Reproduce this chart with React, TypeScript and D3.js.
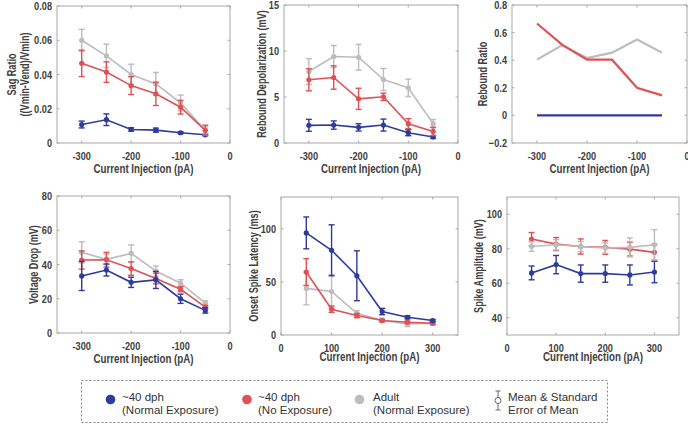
import React from "react";
import * as d3 from "d3";

const BLUE = "#2d3c9c";
const RED = "#df5155";
const GRAY = "#bcbcbc";

const negX = [-300, -250, -200, -150, -100, -50];
const posX = [50, 100, 150, 200, 250, 300];

// Sag ratio
const sagBlue = [0.0108, 0.0136, 0.0079, 0.0075, 0.006, 0.0048];
const sagBlueErr = [0.002, 0.0034, 0.001, 0.0012, 0.0006, 0.0005];
const sagRed = [0.0465, 0.0414, 0.0335, 0.0287, 0.0209, 0.0074];
const sagRedErr = [0.0077, 0.006, 0.0052, 0.0068, 0.004, 0.003];
const sagGray = [0.06, 0.0509, 0.04, 0.0345, 0.0234, 0.0074];
const sagGrayErr = [0.0064, 0.0068, 0.006, 0.0067, 0.0046, 0.002];

// Rebound depolarization
const rdBlue = [1.92, 1.95, 1.7, 1.95, 1.12, 0.65];
const rdBlueErr = [0.65, 0.45, 0.4, 0.65, 0.33, 0.15];
const rdRed = [6.87, 7.12, 4.8, 5.02, 2.1, 1.26];
const rdRedErr = [1.2, 1.27, 1.15, 0.4, 0.55, 0.45];
const rdGray = [7.77, 9.4, 9.32, 6.9, 6.0, 2.1];
const rdGrayErr = [1.4, 1.2, 1.4, 1.2, 0.95, 0.45];

// Rebound ratio
const rrBlue = [0, 0, 0, 0, 0, 0];
const rrRed = [0.666, 0.513, 0.404, 0.404, 0.2, 0.145];
const rrGray = [0.404, 0.508, 0.416, 0.455, 0.55, 0.455];

// Voltage drop
const vdBlue = [33.3, 36.8, 29.6, 31.0, 20.0, 13.2];
const vdBlueErr = [8.5, 3.5, 3.0, 5.0, 2.7, 1.6];
const vdRed = [42.6, 42.8, 37.6, 31.8, 25.6, 15.1];
const vdRedErr = [5.3, 4.3, 3.9, 3.1, 1.5, 1.0];
const vdGray = [47.1, 43.0, 46.5, 36.2, 29.1, 17.4];
const vdGrayErr = [6.2, 3.0, 4.9, 2.9, 2.0, 1.4];

// Onset spike latency
const osBlue = [96.2, 79.8, 55.8, 22.1, 16.7, 13.6];
const osBlueErr = [15, 24, 23.5, 3, 1.5, 1];
const osRed = [59.3, 24.3, 18.3, 13.6, 12, 11];
const osRedErr = [12.6, 3, 2, 1, 1, 1];
const osGray = [43.9, 41, 20.5, 13.9, 10.4, 11];
const osGrayErr = [15.5, 16, 2.5, 2, 2.5, 1.5];

// Spike amplitude
const saBlue = [66, 70.8, 65.6, 65.6, 64.8, 66.5];
const saBlueErr = [4, 5.3, 5, 5, 5.8, 6.2];
const saRed = [85.6, 82.7, 81.3, 80.8, 79.8, 77.9];
const saRedErr = [3.8, 3.8, 4.4, 4, 4, 4.8];
const saGray = [81.3, 82.3, 81.3, 80.4, 80.8, 82.3];
const saGrayErr = [2.8, 3, 3, 3, 5.5, 8.7];

const negTicks = [-300, -200, -100, 0];
const posTicks = [0, 100, 200, 300];

const legendLabels = [
  ["~40 dph", "(Normal Exposure)"],
  ["~40 dph", "(No Exposure)"],
  ["Adult", "(Normal Exposure)"],
  ["Mean & Standard", "Error of Mean"],
];

const FONT = "'Liberation Sans', Arial, sans-serif";
const TEXT_COL = "#404040";

function NText(props: {
  x: number;
  y: number;
  anchor?: string;
  size: number;
  sx: number;
  rot?: number;
  children: React.ReactNode;
}) {
  const { x, y, anchor = "start", size, sx, rot = 0 } = props;
  return (
    <text
      transform={`translate(${x},${y}) rotate(${rot}) scale(${sx},1)`}
      textAnchor={anchor}
      fontFamily={FONT}
      fontWeight="bold"
      fontSize={size}
      fill={TEXT_COL}
    >
      {props.children}
    </text>
  );
}

type Series = { y: number[]; err?: number[]; color: string };

type PanelProps = {
  box: [number, number, number, number];
  xDomain: [number, number];
  yDomain: [number, number];
  xTicks: number[];
  yTicks: number[];
  yFmt: (v: number) => string;
  xs: number[];
  series: Series[];
  yLabel: string[];
  yLabelX: number;
  xLabelY: number;
  markers: boolean;
};

function Panel(p: PanelProps) {
  const [x0, y0, x1, y1] = p.box;
  const xs = d3.scaleLinear().domain(p.xDomain).range([x0, x1]);
  const ys = d3.scaleLinear().domain(p.yDomain).range([y1, y0]);
  const line = d3
    .line<number>()
    .x((_, i) => xs(p.xs[i]))
    .y((d) => ys(d));
  const tl = 2.5;
  const cy = (y0 + y1) / 2;
  const cx = (x0 + x1) / 2;
  return (
    <g>
      <rect x={x0} y={y0} width={x1 - x0} height={y1 - y0} fill="none" stroke="#a8a8a8" strokeWidth={1} />
      {p.xTicks.map((t) => (
        <g key={"xt" + t}>
          <line x1={xs(t)} x2={xs(t)} y1={y1} y2={y1 - tl} stroke="#a8a8a8" />
          <line x1={xs(t)} x2={xs(t)} y1={y0} y2={y0 + tl} stroke="#a8a8a8" />
          <NText x={xs(t)} y={y1 + 16.5} anchor="middle" size={11.5} sx={0.8}>
            {t}
          </NText>
        </g>
      ))}
      {p.yTicks.map((t) => (
        <g key={"yt" + t}>
          <line x1={x0} x2={x0 + tl} y1={ys(t)} y2={ys(t)} stroke="#a8a8a8" />
          <line x1={x1} x2={x1 - tl} y1={ys(t)} y2={ys(t)} stroke="#a8a8a8" />
          <NText x={x0 - 5} y={ys(t) + 4} anchor="end" size={11.5} sx={0.8}>
            {p.yFmt(t)}
          </NText>
        </g>
      ))}
      {p.series.map((s, si) => (
        <g key={"s" + si}>
          <path d={line(s.y) || ""} fill="none" stroke={s.color} strokeWidth={p.markers ? 1.6 : 2.2} />
          {s.err &&
            s.y.map((v, i) => {
              const e = s.err![i];
              const px = xs(p.xs[i]);
              return (
                <g key={"e" + i} stroke={s.color} strokeWidth={1.4}>
                  <line x1={px} x2={px} y1={ys(v - e)} y2={ys(v + e)} />
                  <line x1={px - 3} x2={px + 3} y1={ys(v - e)} y2={ys(v - e)} />
                  <line x1={px - 3} x2={px + 3} y1={ys(v + e)} y2={ys(v + e)} />
                </g>
              );
            })}
          {p.markers &&
            s.y.map((v, i) => <circle key={"m" + i} cx={xs(p.xs[i])} cy={ys(v)} r={2.6} fill={s.color} />)}
        </g>
      ))}
      {p.yLabel.map((l, i) => (
        <NText key={"yl" + i} x={p.yLabelX + i * 12.5} y={cy} rot={-90} anchor="middle" size={12} sx={0.76}>
          {l}
        </NText>
      ))}
      <NText x={cx} y={p.xLabelY} anchor="middle" size={12.5} sx={0.78}>
        Current Injection (pA)
      </NText>
    </g>
  );
}

export default function App() {
  const fmt2 = (v: number) => (v === 0 ? "0" : d3.format(".2f")(v));
  const fmt1 = (v: number) => (v === 0 ? "0" : d3.format(".1f")(v));
  const fmt0 = (v: number) => String(v);
  const legendX = [110.5, 247, 359.5, 498];
  const legendTextX = [122, 258, 373, 508];
  const legendColors = [BLUE, RED, GRAY];
  return (
    <svg width={688} height={425} style={{ position: "absolute", left: 0, top: 0 }}>
      <rect width={688} height={425} fill="#fff" />
      <Panel
        box={[57, 6, 230, 143]}
        xDomain={[-350, 0]}
        yDomain={[0, 0.08]}
        xTicks={negTicks}
        yTicks={[0, 0.02, 0.04, 0.06, 0.08]}
        yFmt={fmt2}
        xs={negX}
        series={[
          { y: sagBlue, err: sagBlueErr, color: BLUE },
          { y: sagGray, err: sagGrayErr, color: GRAY },
          { y: sagRed, err: sagRedErr, color: RED },
        ]}
        yLabel={["Sag Ratio", "((Vmin-Vend)/Vmin)"]}
        yLabelX={16}
        xLabelY={172.5}
        markers={true}
      />
      <Panel
        box={[284, 5, 458, 143]}
        xDomain={[-350, 0]}
        yDomain={[0, 15]}
        xTicks={negTicks}
        yTicks={[0, 5, 10, 15]}
        yFmt={fmt0}
        xs={negX}
        series={[
          { y: rdBlue, err: rdBlueErr, color: BLUE },
          { y: rdGray, err: rdGrayErr, color: GRAY },
          { y: rdRed, err: rdRedErr, color: RED },
        ]}
        yLabel={["Rebound Depolarization (mV)"]}
        yLabelX={266}
        xLabelY={172.5}
        markers={true}
      />
      <Panel
        box={[512, 5, 687, 143]}
        xDomain={[-350, 0]}
        yDomain={[-0.2, 0.8]}
        xTicks={negTicks}
        yTicks={[-0.2, 0, 0.2, 0.4, 0.6, 0.8]}
        yFmt={fmt1}
        xs={negX}
        series={[
          { y: rrGray, color: GRAY },
          { y: rrRed, color: RED },
          { y: rrBlue, color: BLUE },
        ]}
        yLabel={["Rebound Ratio"]}
        yLabelX={487}
        xLabelY={172.5}
        markers={false}
      />
      <Panel
        box={[57, 196, 230, 333]}
        xDomain={[-350, 0]}
        yDomain={[0, 80]}
        xTicks={negTicks}
        yTicks={[0, 20, 40, 60, 80]}
        yFmt={fmt0}
        xs={negX}
        series={[
          { y: vdGray, err: vdGrayErr, color: GRAY },
          { y: vdRed, err: vdRedErr, color: RED },
          { y: vdBlue, err: vdBlueErr, color: BLUE },
        ]}
        yLabel={["Voltage Drop (mV)"]}
        yLabelX={38}
        xLabelY={362.5}
        markers={true}
      />
      <Panel
        box={[281, 197, 458, 335]}
        xDomain={[0, 350]}
        yDomain={[0, 130]}
        xTicks={posTicks}
        yTicks={[0, 50, 100]}
        yFmt={fmt0}
        xs={posX}
        series={[
          { y: osGray, err: osGrayErr, color: GRAY },
          { y: osRed, err: osRedErr, color: RED },
          { y: osBlue, err: osBlueErr, color: BLUE },
        ]}
        yLabel={["Onset Spike Latency (ms)"]}
        yLabelX={258}
        xLabelY={360.5}
        markers={true}
      />
      <Panel
        box={[507, 197, 679, 335]}
        xDomain={[0, 350]}
        yDomain={[30, 110]}
        xTicks={posTicks}
        yTicks={[40, 60, 80, 100]}
        yFmt={fmt0}
        xs={posX}
        series={[
          { y: saBlue, err: saBlueErr, color: BLUE },
          { y: saRed, err: saRedErr, color: RED },
          { y: saGray, err: saGrayErr, color: GRAY },
        ]}
        yLabel={["Spike Amplitude (mV)"]}
        yLabelX={483}
        xLabelY={360.5}
        markers={true}
      />
      {/* Legend */}
      <rect x={81.5} y={380.5} width={526} height={42} fill="none" stroke="#666" strokeWidth={0.8} strokeDasharray="2,2" />
      {legendLabels.map((lab, i) => (
        <g key={"lg" + i}>
          {i < 3 ? (
            <circle cx={legendX[i]} cy={399.5} r={4.8} fill={legendColors[i]} />
          ) : (
            <g stroke="#666" strokeWidth={1} fill="none">
              <line x1={legendX[i]} x2={legendX[i]} y1={391} y2={410} />
              <line x1={legendX[i] - 2.5} x2={legendX[i] + 2.5} y1={391} y2={391} />
              <line x1={legendX[i] - 2.5} x2={legendX[i] + 2.5} y1={410} y2={410} />
              <circle cx={legendX[i]} cy={400.5} r={3} fill="#fff" />
            </g>
          )}
          <text x={legendTextX[i]} y={401} fontFamily={FONT} fontSize={11.5} fill="#333">
            {lab[0]}
          </text>
          <text x={legendTextX[i]} y={413.5} fontFamily={FONT} fontSize={11.5} fill="#333">
            {lab[1]}
          </text>
        </g>
      ))}
    </svg>
  );
}
